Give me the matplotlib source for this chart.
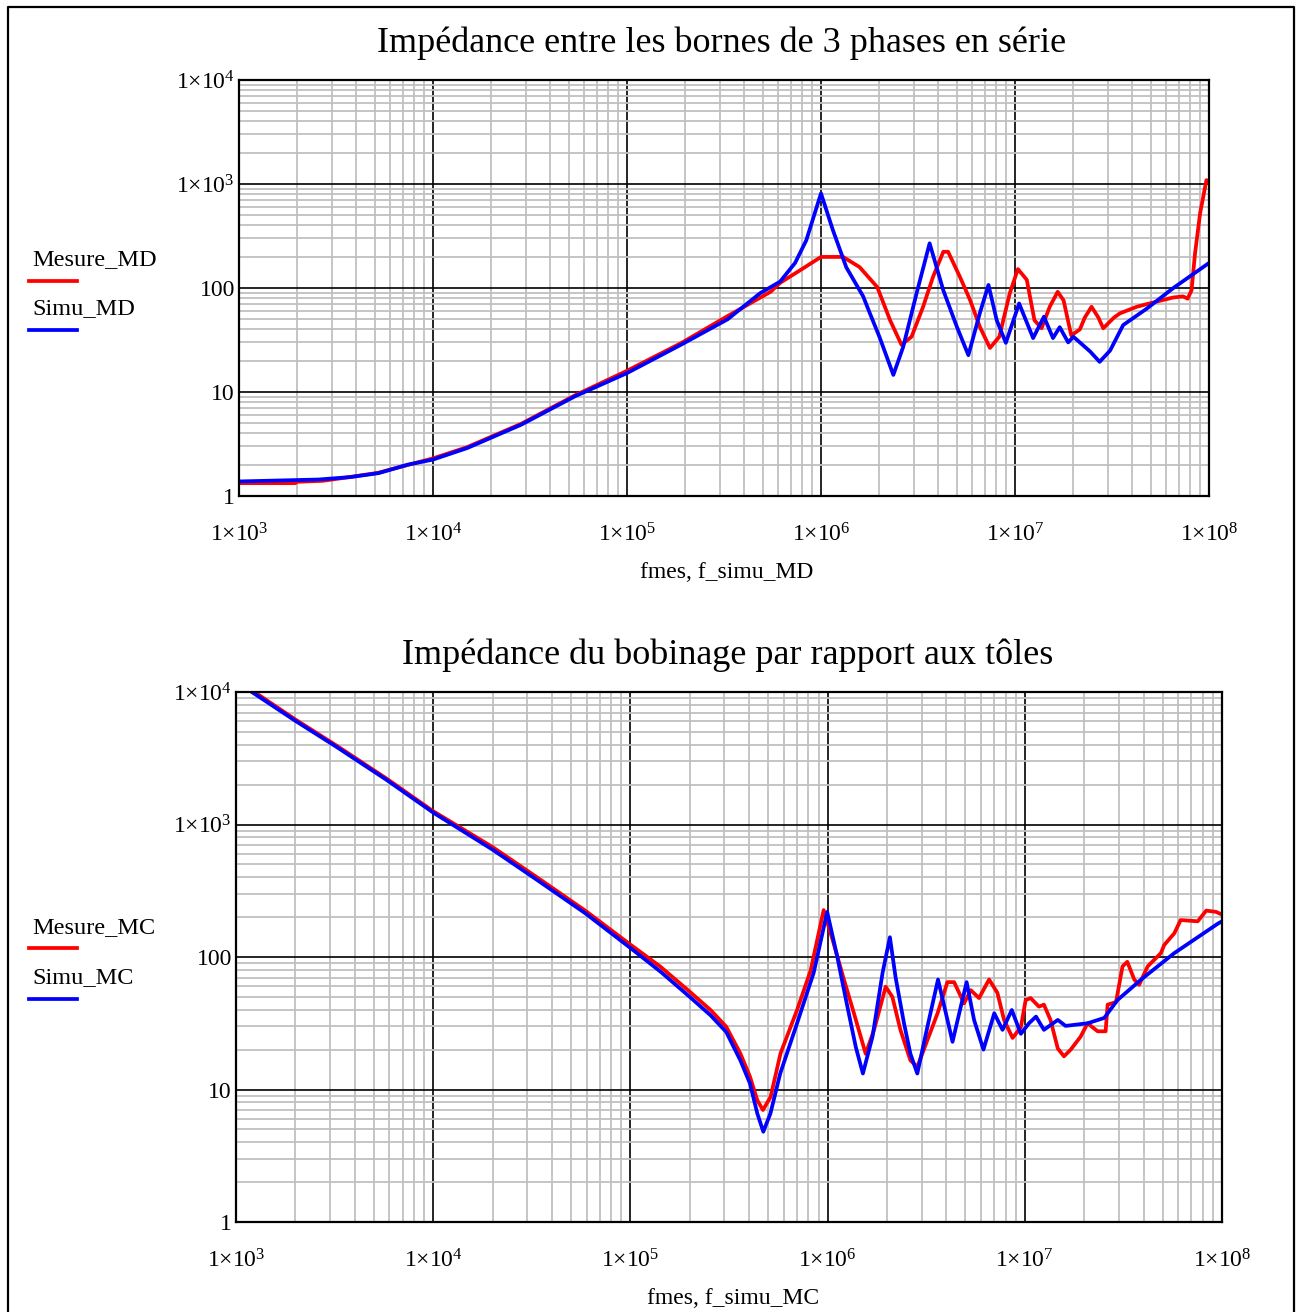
import matplotlib
matplotlib.use("Agg")
import matplotlib.pyplot as plt
from matplotlib.ticker import LogLocator, NullFormatter
from matplotlib.lines import Line2D

plt.rcParams["font.family"] = ["Liberation Serif", "DejaVu Serif"]
plt.rcParams["mathtext.fontset"] = "custom"
plt.rcParams["mathtext.rm"] = "Liberation Serif"
plt.rcParams["mathtext.it"] = "Liberation Serif:italic"

# ---- data (Hz, Ohm) ----
# top: impedance between terminals, 3 phases in series
f_mes_md = [1e3, 1.95e3, 2.0e3, 2.7e3, 3.8e3, 5.2e3, 7.5e3, 1e4, 1.5e4, 2.85e4, 5.4e4,
            1e5, 1.9e5, 3.3e5, 5.5e5, 6.15e5, 7.8e5, 1e6, 1.3e6, 1.58e6, 1.95e6, 2.27e6,
            2.6e6, 2.93e6, 3.36e6, 3.78e6, 4.27e6, 4.52e6, 5.2e6, 5.86e6, 6.6e6, 7.43e6,
            8.3e6, 9.4e6, 1.035e7, 1.15e7, 1.26e7, 1.37e7, 1.51e7, 1.66e7, 1.78e7, 1.95e7,
            2.16e7, 2.29e7, 2.48e7, 2.69e7, 2.85e7, 3.24e7, 3.47e7, 4.24e7, 5.37e7, 6.53e7,
            7.35e7, 7.76e7, 8.13e7, 8.47e7, 9.0e7, 9.7e7, 1e8]
z_mes_md = [1.33, 1.33, 1.37, 1.40, 1.53, 1.67, 2.0, 2.3, 2.95, 4.95, 9.3,
            16, 29.5, 53.7, 92, 112, 148, 199, 199, 159, 102, 49,
            28.4, 34, 66, 128, 223, 223, 128, 77, 42, 26.5,
            34, 89, 152, 120, 49, 41, 66, 92, 76, 35,
            40, 52, 66, 52, 41, 52, 57, 66, 74, 81,
            83, 79, 95, 214, 525, 1090, 1050]

f_simu_md = [1e3, 2.57e3, 3.75e3, 5.25e3, 7.4e3, 1e4, 1.5e4, 2.85e4, 5.4e4, 1e5, 1.9e5,
             3.3e5, 4.85e5, 5.75e5, 6.15e5, 7.35e5, 8.4e5, 1e6, 1.15e6, 1.35e6, 1.65e6,
             1.78e6, 2.0e6, 2.36e6, 2.65e6, 3.11e6, 3.63e6, 4.27e6, 5.0e6, 5.75e6, 6.6e6,
             7.3e6, 8.05e6, 8.97e6, 1.05e7, 1.24e7, 1.41e7, 1.57e7, 1.70e7, 1.88e7, 2.0e7,
             2.44e7, 2.73e7, 3.09e7, 3.61e7, 4.76e7, 6.55e7, 1e8]
z_simu_md = [1.38, 1.44, 1.52, 1.66, 2.0, 2.24, 2.89, 4.85, 9.1, 15.2, 28.5,
             50, 89, 107, 115, 174, 288, 813, 363, 158, 83,
             58, 34, 14.6, 27, 89, 269, 95, 43, 22.6, 58,
             107, 49, 29.7, 71, 33, 53, 33, 42, 30, 34,
             24.5, 19.5, 25, 44, 63, 100, 174]

# bottom: winding impedance relative to the laminations
f_mes_mc = [1e3, 1.24e3, 2.01e3, 3.2e3, 5.75e3, 1e4, 2e4, 3.3e4, 5.9e4, 1e5, 1.42e5,
            2.0e5, 2.55e5, 3.06e5, 3.61e5, 4.04e5, 4.4e5, 4.7e5, 5.14e5, 5.77e5, 7.0e5,
            8.2e5, 9.55e5,
            1.06e6, 1.21e6, 1.36e6, 1.56e6, 1.72e6, 1.97e6, 2.13e6, 2.34e6, 2.63e6, 2.85e6,
            3.21e6, 3.61e6, 4.05e6, 4.38e6, 4.92e6, 5.32e6, 5.86e6, 6.59e6, 7.26e6, 7.85e6,
            8.67e6, 9.55e6, 1.01e7, 1.07e7, 1.18e7, 1.25e7, 1.35e7, 1.47e7, 1.58e7, 1.71e7,
            1.92e7, 2.08e7, 2.34e7, 2.57e7, 2.63e7, 2.9e7, 3.13e7, 3.31e7, 3.59e7, 3.8e7,
            4.2e7, 4.9e7, 5.09e7, 5.73e7, 6.17e7, 7.53e7, 8.32e7, 9.33e7, 1e8]
z_mes_mc = [12300, 10000, 6170, 3980, 2240, 1260, 676, 407, 224, 124, 84.5,
            54.7, 39.8, 29.8, 18.7, 12.5, 8.3, 7.0, 8.8, 18.7, 39.8,
            79, 226,
            135, 67.6, 37.6, 18.6, 28.2, 59.7, 50, 28.2, 16.6, 14.8,
            23.7, 37.6, 64.6, 64.6, 44.7, 56.2, 49, 67.6, 53.7, 33.5,
            24.5, 29.5, 47.3, 49, 42.2, 43.7, 33.5, 20.4, 17.8, 20,
            25.1, 31.6, 27.5, 27.5, 43.7, 45.7, 85, 92, 67.6, 61.7,
            85, 107, 123, 151, 190, 186, 224, 219, 209]

f_simu_mc = [1e3, 2.01e3, 3.2e3, 5.75e3, 1e4, 2e4, 3.3e4, 5.9e4, 1e5, 1.42e5, 2.0e5,
             2.55e5, 3.06e5, 3.61e5, 4.04e5, 4.4e5, 4.72e5, 5.13e5, 5.75e5, 7.0e5, 8.5e5,
             9.95e5,
             1.12e6, 1.26e6, 1.39e6, 1.51e6, 1.69e6, 1.9e6, 2.07e6, 2.21e6, 2.44e6, 2.63e6,
             2.85e6, 3.21e6, 3.63e6, 3.98e6, 4.3e6, 4.65e6, 5.07e6, 5.53e6, 6.17e6, 7.0e6,
             7.71e6, 8.59e6, 9.55e6, 1.05e7, 1.14e7, 1.25e7, 1.47e7, 1.61e7, 2.08e7, 2.53e7,
             2.95e7, 3.89e7, 5.73e7, 9.5e7, 1e8]
z_simu_mc = [12000, 6030, 3890, 2190, 1230, 646, 389, 214, 117, 77.6, 50,
             36.3, 27.2, 16.6, 11.1, 6.6, 4.8, 6.6, 13.2, 31.6, 76,
             219,
             100, 42.2, 20.9, 13.2, 25.1, 76, 141, 70.8, 31.6, 18.6,
             13.2, 29.9, 67.6, 37.6, 22.9, 37.6, 64.6, 33.5, 20, 37.6,
             28.2, 39.8, 26.3, 31.6, 35.5, 28.2, 33.5, 30.2, 31.6, 34.7,
             47.3, 67.6, 107, 178, 186]

x_ticks = [1e3, 1e4, 1e5, 1e6, 1e7, 1e8]
x_tick_labels = [r"$\mathregular{1×10^{%d}}$" % n for n in range(3, 9)]
y_ticks = [1, 10, 100, 1e3, 1e4]
y_tick_labels = ["1", "10", "100", r"$\mathregular{1×10^{3}}$", r"$\mathregular{1×10^{4}}$"]

titles = ["Impédance entre les bornes de 3 phases en série",
          "Impédance du bobinage par rapport aux tôles"]
xlabels = ["fmes, f_simu_MD", "fmes, f_simu_MC"]
legend_names = [["Mesure_MD", "Simu_MD"], ["Mesure_MC", "Simu_MC"]]

W, H = 1296, 1312
fig = plt.figure(figsize=(W / 100, H / 100), dpi=100)


def px_box(left, top, right, bottom):
    return [left / W, 1 - bottom / H, (right - left) / W, (bottom - top) / H]


ax1 = fig.add_axes(px_box(239, 80, 1209, 496))
ax2 = fig.add_axes(px_box(236, 692, 1222, 1222))

series = [(f_mes_md, z_mes_md, f_simu_md, z_simu_md),
          (f_mes_mc, z_mes_mc, f_simu_mc, z_simu_mc)]

for ax, (fm, zm, fs, zs) in zip([ax1, ax2], series):
    ax.set_xscale("log")
    ax.set_yscale("log")
    ax.set_xlim(1e3, 1e8)
    ax.set_ylim(1, 1e4)
    ax.set_axisbelow(True)
    ax.xaxis.set_minor_locator(LogLocator(base=10, subs=range(2, 10), numticks=20))
    ax.yaxis.set_minor_locator(LogLocator(base=10, subs=range(2, 10), numticks=20))
    ax.xaxis.set_minor_formatter(NullFormatter())
    ax.yaxis.set_minor_formatter(NullFormatter())
    ax.grid(which="minor", color="#c0c0c0", lw=1.3)
    ax.grid(which="major", color="black", lw=1.2)
    ax.set_xticks(x_ticks)
    ax.set_xticklabels(x_tick_labels)
    ax.set_yticks(y_ticks)
    ax.set_yticklabels(y_tick_labels)
    ax.tick_params(which="both", length=0, labelsize=17)
    ax.tick_params(axis="x", pad=20)
    ax.tick_params(axis="y", pad=3)
    for s in ax.spines.values():
        s.set_linewidth(1.6)
        s.set_color("black")
    ax.plot(fm, zm, color="red", lw=2.7, solid_joinstyle="round")
    ax.plot(fs, zs, color="blue", lw=2.7, solid_joinstyle="round")

# titles and axis names
fig.text(722 / W, 1 - 43 / H, titles[0], ha="center", va="center", fontsize=26)
fig.text(728 / W, 1 - 655 / H, titles[1], ha="center", va="center", fontsize=26)
fig.text(727 / W, 1 - 573 / H, xlabels[0], ha="center", va="center", fontsize=17)
fig.text(733 / W, 1 - 1298 / H, xlabels[1], ha="center", va="center", fontsize=17)

# legends on the left
legend_rows = [(260, 281, 309, 330), (928, 948, 978, 999)]
for names, (t1, l1, t2, l2) in zip(legend_names, legend_rows):
    fig.text(32 / W, 1 - t1 / H, names[0], ha="left", va="center", fontsize=17.5)
    fig.add_artist(Line2D([29 / W, 77 / W], [1 - l1 / H, 1 - l1 / H], color="red", lw=2.7))
    fig.text(32 / W, 1 - t2 / H, names[1], ha="left", va="center", fontsize=17.5)
    fig.add_artist(Line2D([29 / W, 77 / W], [1 - l2 / H, 1 - l2 / H], color="blue", lw=2.7))

# outer frame (bottom edge is cut off in the original)
fig.add_artist(Line2D([8 / W, 8 / W, 1294 / W, 1294 / W],
                      [0, 1 - 7 / H, 1 - 7 / H, 0], color="black", lw=1.6))

fig.savefig("out.png", dpi=100)
